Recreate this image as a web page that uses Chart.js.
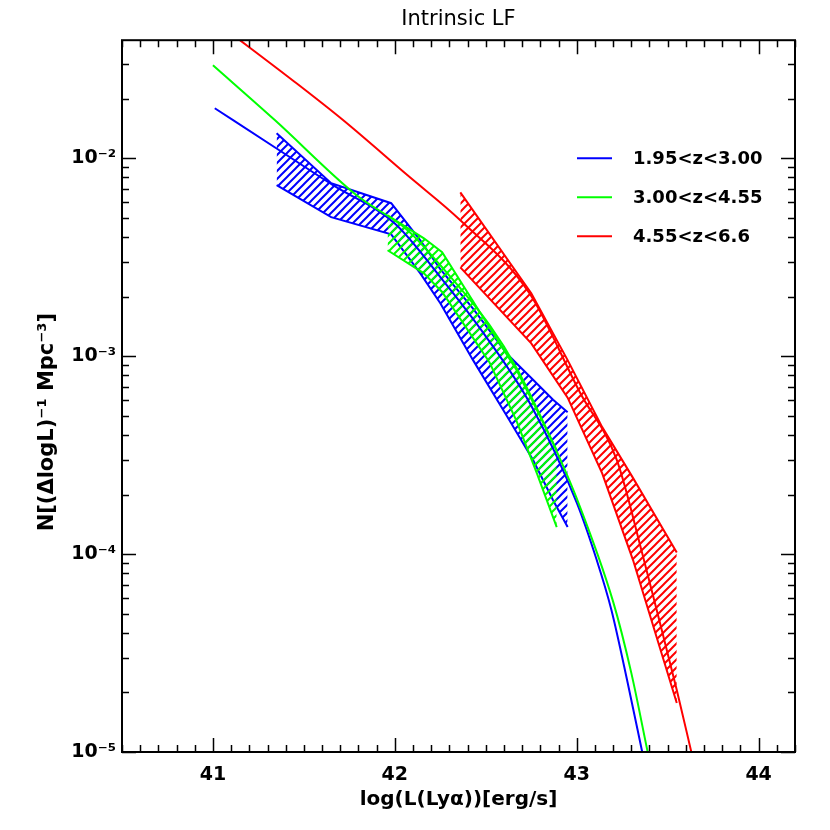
<!DOCTYPE html>
<html>
<head>
<meta charset="utf-8">
<script src="https://cdn.jsdelivr.net/npm/chart.js@4.4.0/dist/chart.umd.min.js"></script>
<style>
  html, body { margin: 0; padding: 0; background: #fff; }
  #wrap { width: 830px; height: 830px; }
</style>
</head>
<body>
<div id="wrap"><canvas id="lfChart" width="830" height="830"></canvas></div>
<script>
// values: x = log L(Lya) [erg/s], y = N per dlogL per Mpc^3
const seriesLabels = ["1.95<z<3.00", "3.00<z<4.55", "4.55<z<6.6"];

const blueModelX = [41.01, 41.35, 41.66, 42.0, 42.25, 42.5, 42.75, 43.0, 43.11, 43.19, 43.28, 43.36];
const blueModelY = [1.79e-2, 1.12e-2, 7.31e-3, 4.68e-3, 2.51e-3, 1.26e-3, 5.62e-4, 1.82e-4, 9.33e-5, 5.25e-5, 2.24e-5, 1.0e-5];

const greenModelX = [41.0, 41.34, 41.79, 42.07, 42.25, 42.52, 42.67, 42.85, 43.0, 43.2, 43.3, 43.39];
const greenModelY = [2.95e-2, 1.56e-2, 6.5e-3, 4.33e-3, 2.88e-3, 1.44e-3, 8.69e-4, 3.98e-4, 1.91e-4, 5.75e-5, 2.51e-5, 1.0e-5];

const redModelX = [41.0, 41.15, 41.45, 41.715, 42.07, 42.36, 42.74, 43.02, 43.22, 43.36, 43.44, 43.55, 43.63];
const redModelY = [5.0e-2, 3.94e-2, 2.43e-2, 1.56e-2, 8.2e-3, 4.86e-3, 2.08e-3, 6.5e-4, 2.99e-4, 1.01e-4, 5.2e-5, 2.06e-5, 1.0e-5];

// observed ranges (hatched bands)
const blueBandX = [41.35, 41.65, 41.98, 42.14, 42.25, 42.43, 42.62, 42.76, 42.87, 42.95];
const blueBandHi = [1.337e-2, 7.48e-3, 5.93e-3, 3.85e-3, 2.75e-3, 1.74e-3, 1.02e-3, 7.6e-4, 6.03e-4, 5.21e-4];
const blueBandLo = [7.31e-3, 5.04e-3, 4.13e-3, 2.62e-3, 1.85e-3, 9.55e-4, 4.92e-4, 2.99e-4, 1.87e-4, 1.37e-4];

const greenBandX = [41.96, 42.16, 42.26, 42.52, 42.67, 42.78, 42.89];
const greenBandHi = [5.15e-3, 3.94e-3, 3.35e-3, 1.40e-3, 8.49e-4, 5.37e-4, 3.35e-4];
const greenBandLo = [3.43e-3, 2.62e-3, 2.11e-3, 9.33e-4, 4.68e-4, 2.57e-4, 1.37e-4];

const redBandX = [42.36, 42.75, 42.95, 43.14, 43.31, 43.55];
const redBandHi = [6.73e-3, 2.08e-3, 9.55e-4, 4.38e-4, 2.42e-4, 1.02e-4];
const redBandLo = [2.81e-3, 1.16e-3, 6.17e-4, 2.56e-4, 9.3e-5, 1.77e-5];

const xTickValues = [41, 42, 43, 44];
const yTickValues = [1e-5, 1e-4, 1e-3, 1e-2];
const yTickLabels = ["10\u207B\u2075", "10\u207B\u2074", "10\u207B\u00B3", "10\u207B\u00B2"];
const yTitle = "N[(\u0394logL)\u207B\u00B9 Mpc\u207B\u00B3]";

const BLUE = "#0000ff", GREEN = "#00ff00", RED = "#ff0000";
const tickFont = { family: "DejaVu Sans", size: 19, weight: "bold", lineHeight: 1.2 };
const titleFont = { family: "DejaVu Sans", size: 20, weight: "bold", lineHeight: 1.2 };

const pts = (xs, ys) => xs.map((x, i) => ({ x: x, y: ys[i] }));

function hatch(color) {
    const c = document.createElement("canvas");
    c.width = 8; c.height = 8;
    const g = c.getContext("2d");
    g.strokeStyle = color;
    g.lineWidth = 2;
    g.beginPath();
    g.moveTo(-2, 10); g.lineTo(10, -2);
    g.moveTo(-2, 2); g.lineTo(2, -2);
    g.moveTo(6, 10); g.lineTo(10, 6);
    g.stroke();
    return g.createPattern(c, "repeat");
}

function line(xs, ys, color, extra) {
    return Object.assign({
        data: pts(xs, ys),
        borderColor: color,
        borderWidth: 2,
        pointRadius: 0,
        fill: false,
        tension: 0
    }, extra || {});
}

// model curves are smooth, the bands are straight segments
const smooth = { cubicInterpolationMode: "monotone" };

// dataset 0 is drawn on top
const datasets = [
    line(redModelX, redModelY, RED, smooth),
    line(greenModelX, greenModelY, GREEN, smooth),
    line(blueModelX, blueModelY, BLUE, smooth),
    line(greenBandX, greenBandHi, GREEN),
    line(greenBandX, greenBandLo, GREEN, { fill: "-1", backgroundColor: hatch(GREEN) }),
    line(blueBandX, blueBandHi, BLUE),
    line(blueBandX, blueBandLo, BLUE, { fill: "-1", backgroundColor: hatch(BLUE) }),
    line(redBandX, redBandHi, RED),
    line(redBandX, redBandLo, RED, { fill: "-1", backgroundColor: hatch(RED) })
];

const legendItems = [
    { label: seriesLabels[0], color: BLUE },
    { label: seriesLabels[1], color: GREEN },
    { label: seriesLabels[2], color: RED }
];

// IDL style box with inward ticks on all four sides
const frameTicks = {
    id: "frameTicks",
    afterDraw(chart) {
        const { ctx, chartArea: a, scales: { x, y } } = chart;
        ctx.save();
        ctx.strokeStyle = "#000";
        ctx.lineWidth = 2;
        ctx.strokeRect(a.left, a.top, a.right - a.left, a.bottom - a.top);
        ctx.lineWidth = 1.5;
        ctx.beginPath();
        for (let k = 405; k <= 442; k++) {
            const px = Math.round(x.getPixelForValue(k / 10)) + 0.5;
            const len = k % 10 === 0 ? 14 : 7;
            ctx.moveTo(px, a.bottom); ctx.lineTo(px, a.bottom - len);
            ctx.moveTo(px, a.top); ctx.lineTo(px, a.top + len);
        }
        for (let e = -5; e <= -2; e++) {
            for (let m = 1; m <= 9; m++) {
                const v = m * Math.pow(10, e);
                if (v > y.max) break;
                const py = Math.round(y.getPixelForValue(v)) + 0.5;
                const len = m === 1 ? 14 : 7;
                ctx.moveTo(a.left, py); ctx.lineTo(a.left + len, py);
                ctx.moveTo(a.right, py); ctx.lineTo(a.right - len, py);
            }
        }
        ctx.stroke();

        // y axis title, sits a bit below the middle of the axis
        ctx.save();
        ctx.translate(48, (a.top + a.bottom) / 2 + 26);
        ctx.rotate(-Math.PI / 2);
        ctx.font = "bold 21px 'DejaVu Sans'";
        ctx.fillStyle = "#000";
        ctx.textAlign = "center";
        ctx.textBaseline = "middle";
        ctx.fillText(yTitle, 0, 0);
        ctx.restore();
        ctx.restore();
    }
};

const lineLegend = {
    id: "lineLegend",
    afterDraw(chart) {
        const { ctx, chartArea: a } = chart;
        ctx.save();
        ctx.font = "bold 18px 'DejaVu Sans'";
        ctx.textBaseline = "middle";
        ctx.fillStyle = "#000";
        legendItems.forEach((item, i) => {
            const yy = a.top + 118 + i * 39;
            ctx.strokeStyle = item.color;
            ctx.lineWidth = 2;
            ctx.beginPath();
            ctx.moveTo(a.right - 218, yy);
            ctx.lineTo(a.right - 183, yy);
            ctx.stroke();
            ctx.fillText(item.label, a.right - 162, yy + 1);
        });
        ctx.restore();
    }
};

new Chart(document.getElementById("lfChart"), {
    type: "line",
    data: { datasets: datasets },
    options: {
        responsive: false,
        animation: false,
        events: [],
        layout: { padding: { left: 0, right: 35, top: 0, bottom: 0 } },
        plugins: {
            legend: { display: false },
            tooltip: { enabled: false },
            title: {
                display: true,
                text: "Intrinsic LF",
                fullSize: false,
                color: "#000",
                font: { family: "DejaVu Sans", size: 21, weight: "normal", lineHeight: 1.2 },
                padding: { top: 7, bottom: 8 }
            }
        },
        scales: {
            x: {
                type: "linear",
                min: 40.5,
                max: 44.2,
                grid: { display: false, drawTicks: false },
                border: { display: false },
                afterBuildTicks: s => { s.ticks = xTickValues.map(v => ({ value: v })); },
                afterFit: s => { s.height = 78; },
                ticks: { color: "#000", font: tickFont, padding: 12, maxRotation: 0, autoSkip: false },
                title: {
                    display: true,
                    text: "log(L(Ly\u03B1))[erg/s]",
                    color: "#000",
                    font: titleFont,
                    padding: { top: 0, bottom: 18 }
                }
            },
            y: {
                type: "logarithmic",
                min: 1e-5,
                max: 0.0395,
                grid: { display: false, drawTicks: false },
                border: { display: false },
                afterBuildTicks: s => { s.ticks = yTickValues.map(v => ({ value: v })); },
                afterFit: s => { s.width = 122; },
                ticks: {
                    color: "#000",
                    font: tickFont,
                    padding: 6,
                    autoSkip: false,
                    callback: (v, i) => yTickLabels[i]
                }
            }
        }
    },
    plugins: [frameTicks, lineLegend]
});
</script>
</body>
</html>
